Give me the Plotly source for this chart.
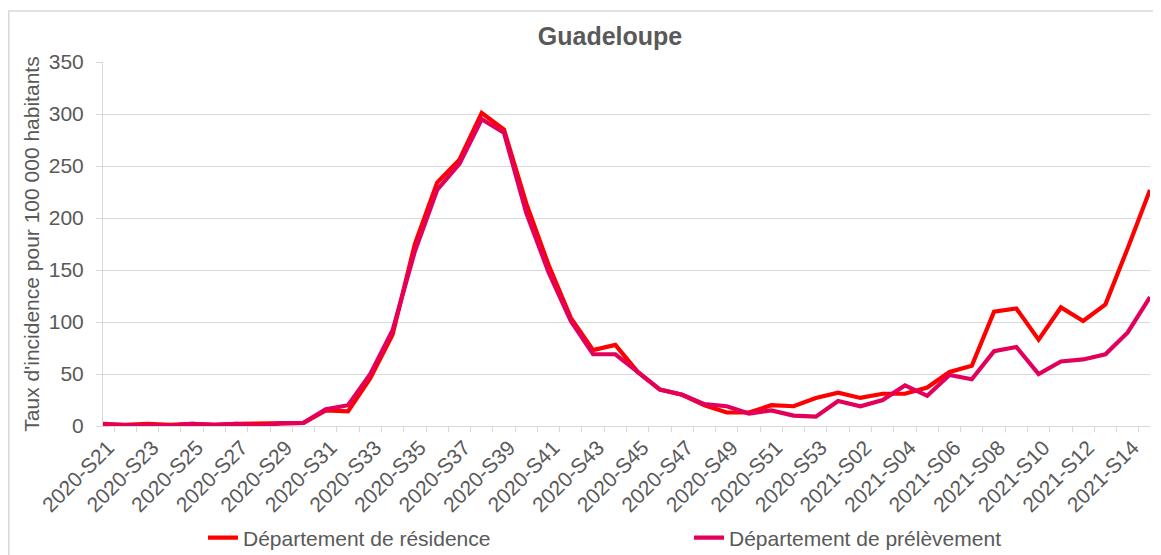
import plotly.graph_objects as go

# ---- data ----
weeks_2020 = [f"2020-S{w:02d}" for w in range(21, 54)]
weeks_2021 = [f"2021-S{w:02d}" for w in range(1, 16)]
categories = weeks_2020 + weeks_2021

residence = [2, 1, 2, 1, 2, 1, 2, 2, 2.5, 3,
             15, 14, 46, 88, 175, 234, 256, 301, 285, 214,
             155, 104, 73, 78, 52, 35, 30, 20, 13, 13,
             20, 19, 27, 32, 27, 31, 31, 37, 52, 58,
             110, 113, 83, 114, 101, 117, 171, 227]

prelevement = [1, 0.5, 1, 0.5, 2, 1, 2, 0.5, 2.5, 3,
               16, 20, 50, 92, 168, 227, 252, 295, 282, 205,
               148, 101, 69, 69, 52, 35, 30, 21, 19, 12,
               15, 10, 9, 24, 19, 25, 39, 29, 49, 45,
               72, 76, 50, 62, 64, 69, 90, 124]

tick_labels = [c if i % 2 == 0 else "" for i, c in enumerate(categories)]

title_text = "Guadeloupe"
y_title = "Taux d'incidence pour 100 000 habitants"
name_res = "Département de résidence"
name_pre = "Département de prélèvement"

# ---- style ----
FONT = "Liberation Sans, Arial, sans-serif"
GRAY = "#595959"
GRID = "#D9D9D9"
RED = "#FF0000"
MAG = "#E3005B"

OFF = 8                      # default page margin around the figure div
W, H = 1161 - OFF, 555 - OFF
L, R, T, B = 103 - OFF, 11, 62 - OFF, 129
pw, ph = W - L - R, H - T - B


def px_x(page_px):
    return (page_px - OFF - L) / pw


def px_y(page_py):
    return (H - B - (page_py - OFF)) / ph


fig = go.Figure()
fig.add_trace(go.Scatter(x=categories, y=residence, mode="lines", name=name_res,
                         line=dict(color=RED, width=4.2), legend="legend",
                         showlegend=True))
fig.add_trace(go.Scatter(x=categories, y=prelevement, mode="lines", name=name_pre,
                         line=dict(color=MAG, width=4.2), legend="legend2",
                         showlegend=True))

legend_common = dict(orientation="h", yanchor="middle", xanchor="left",
                     font=dict(family=FONT, size=21, color=GRAY),
                     bgcolor="rgba(0,0,0,0)", borderwidth=0, visible=True)

fig.update_layout(
    template="none",
    showlegend=True,
    width=W, height=H,
    margin=dict(l=L, r=R, t=T, b=B, pad=0, autoexpand=False),
    paper_bgcolor="white", plot_bgcolor="white",
    font=dict(family=FONT, color=GRAY, size=21),
    title=dict(text=f"<b>{title_text}</b>", x=px_x(610), xref="paper", xanchor="center",
               y=1 - (36 - OFF) / H, yref="container", yanchor="middle",
               font=dict(family=FONT, size=25, color=GRAY)),
    legend=dict(x=px_x(203), y=px_y(538), **legend_common),
    legend2=dict(x=px_x(689), y=px_y(538), **legend_common),
    xaxis=dict(type="category", categoryorder="array", categoryarray=categories,
               tickmode="array", tickvals=categories, ticktext=tick_labels,
               tickangle=-45, tickson="boundaries", ticks="outside", ticklen=5,
               tickcolor=GRID, tickwidth=1, showline=True, linecolor=GRID, linewidth=1,
               showgrid=False, zeroline=False, automargin=False,
               ticklabelshift=5,
               tickfont=dict(family=FONT, size=21, color=GRAY)),
    yaxis=dict(range=[0, 350], dtick=50, tick0=0, ticks="outside", ticklen=6,
               tickcolor=GRID, tickwidth=1, showline=True, linecolor=GRID, linewidth=1,
               showgrid=True, gridcolor=GRID, gridwidth=1, zeroline=False,
               ticklabelstandoff=8, automargin=False,
               tickfont=dict(family=FONT, size=21, color=GRAY),
               title=dict(text=y_title, standoff=3,
                          font=dict(family=FONT, size=21, color=GRAY))),
    shapes=[dict(type="rect", xref="paper", yref="paper",
                 x0=px_x(8.8), x1=px_x(1175), y0=px_y(575), y1=px_y(11),
                 line=dict(color=GRID, width=1.5), fillcolor="rgba(0,0,0,0)",
                 layer="below")],
)

fig.write_html("out.html")
